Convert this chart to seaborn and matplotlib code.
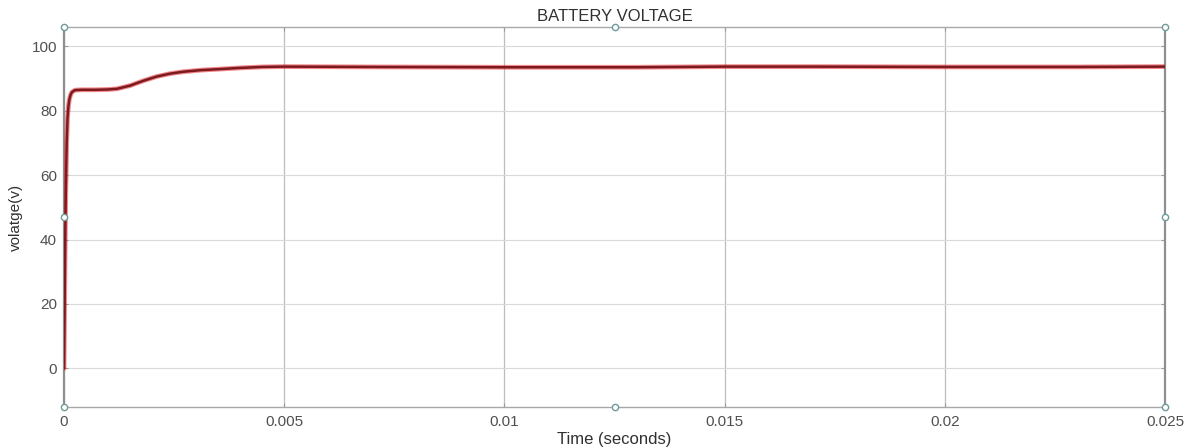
import numpy as np
import pandas as pd
import matplotlib
matplotlib.use("Agg")
import matplotlib.pyplot as plt
import seaborn as sns

# Battery voltage trace (time in seconds, voltage in volts)
time_s = [0.0, 0.00001, 0.00002, 0.00003, 0.00004, 0.00006, 0.00008, 0.00010,
          0.00012, 0.00015, 0.00018, 0.00025, 0.0004, 0.0007, 0.0010, 0.0012,
          0.0015, 0.0018, 0.0021, 0.0024, 0.0027, 0.0031, 0.0035, 0.0040,
          0.0045, 0.0050, 0.0070, 0.0100, 0.0130, 0.0150, 0.0170, 0.0200,
          0.0230, 0.0250]
voltage_v = [0.0, 15.0, 30.0, 44.0, 55.0, 70.0, 78.0, 81.5,
             83.5, 85.0, 85.8, 86.4, 86.5, 86.5, 86.6, 86.8,
             87.8, 89.3, 90.6, 91.5, 92.1, 92.6, 92.9, 93.3,
             93.6, 93.7, 93.6, 93.5, 93.5, 93.7, 93.7, 93.6,
             93.6, 93.7]

x_ticks = [0, 0.005, 0.01, 0.015, 0.02, 0.025]
x_tick_labels = ["0", "0.005", "0.01", "0.015", "0.02", "0.025"]
y_ticks = [0, 20, 40, 60, 80, 100]
y_limits = (-12, 106)
x_limits = (0, 0.025)

df = pd.DataFrame({"Time (seconds)": time_s, "volatge(v)": voltage_v})

sns.set_style("white")
plt.rcParams["font.family"] = ["Liberation Sans", "DejaVu Sans"]

fig = plt.figure(figsize=(11.95, 4.47), dpi=100)
ax = fig.add_axes([0.0536, 0.0895, 0.9214, 0.8501])

# red halo under a dark maroon core
sns.lineplot(data=df, x="Time (seconds)", y="volatge(v)", ax=ax,
             color="#e8262b", linewidth=3.4, alpha=0.55, zorder=3)
sns.lineplot(data=df, x="Time (seconds)", y="volatge(v)", ax=ax,
             color="#7c1a20", linewidth=1.8, zorder=4)

ax.set_xlim(*x_limits)
ax.set_ylim(*y_limits)
ax.set_xticks(x_ticks)
ax.set_xticklabels(x_tick_labels)
ax.set_yticks(y_ticks)

ax.grid(True, axis="y", color="#d9d9d9", linewidth=0.8)
ax.grid(True, axis="x", color="#bdbdbd", linewidth=0.9)

ax.tick_params(axis="both", direction="in", length=3, colors="#9a9a9a",
               labelcolor="#505050", labelsize=11, top=True, right=True,
               bottom=True, left=True)
ax.tick_params(axis="x", pad=6)
ax.tick_params(axis="y", pad=5)

for side in ("left", "right"):
    ax.spines[side].set_color("#8c9090")
    ax.spines[side].set_linewidth(1.6)
for side in ("top", "bottom"):
    ax.spines[side].set_color("#a8a8a8")
    ax.spines[side].set_linewidth(1.0)

# selection handles around the axes box
xm = (x_limits[0] + x_limits[1]) / 2
ym = (y_limits[0] + y_limits[1]) / 2
hx = [x_limits[0], xm, x_limits[1], x_limits[0], x_limits[1], x_limits[0], xm, x_limits[1]]
hy = [y_limits[1], y_limits[1], y_limits[1], ym, ym, y_limits[0], y_limits[0], y_limits[0]]
ax.plot(hx, hy, linestyle="none", marker="o", markersize=4.5,
        markerfacecolor="white", markeredgecolor="#6f9a9a",
        markeredgewidth=1.0, clip_on=False, zorder=6)

ax.set_xlabel("Time (seconds)", fontsize=12, color="#303030", labelpad=2)
ax.set_ylabel("volatge(v)", fontsize=11, color="#303030", labelpad=6)
ax.set_title("BATTERY VOLTAGE", fontsize=12, color="#303030", pad=4)

fig.savefig("out.png", dpi=100, facecolor="white")
